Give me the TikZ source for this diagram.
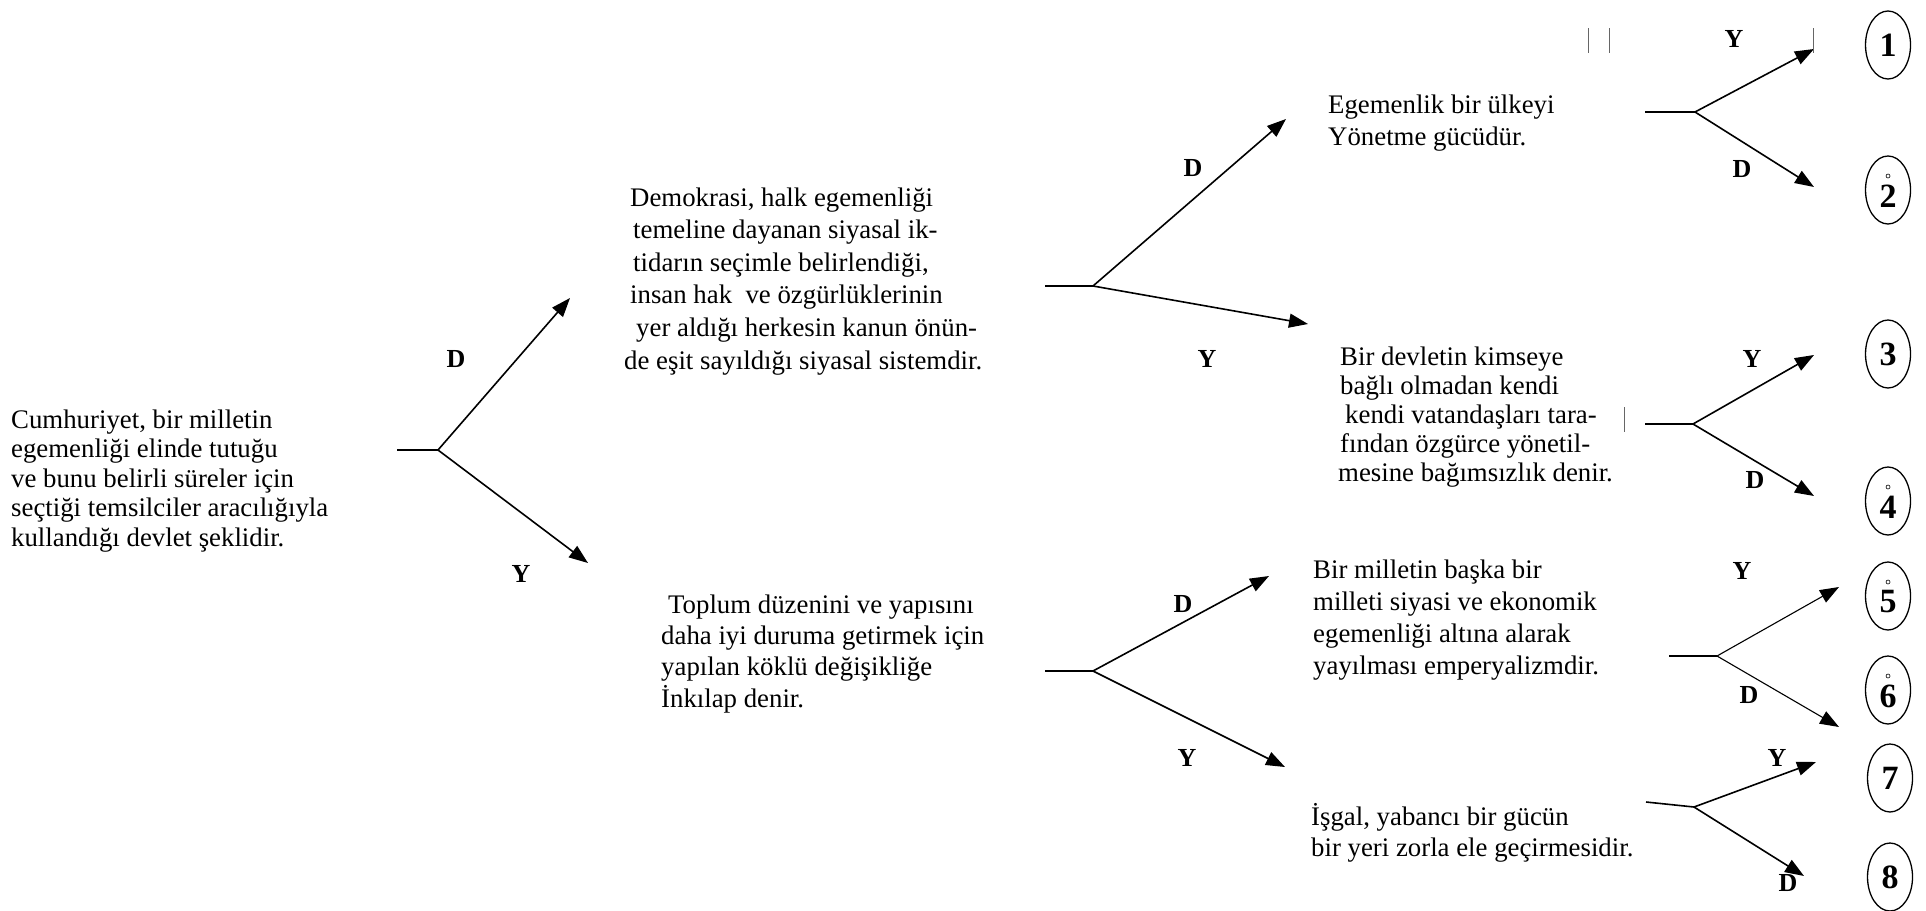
\documentclass[tikz,border=0pt]{standalone}
\usepackage{fontspec}
\setmainfont{Liberation Serif}
\usetikzlibrary{arrows.meta,shapes.geometric}
\begin{document}
\begin{tikzpicture}[x=1pt,y=-1pt,
  txt/.style={anchor=base west,inner sep=0pt,font=\fontsize{26.8}{#1}\selectfont},
  lbl/.style={inner sep=0pt,font=\fontsize{26}{30}\selectfont\bfseries},
  numc/.style={draw,line width=1.3pt,ellipse,minimum width=45pt,minimum height=68pt,inner sep=0pt},
  digit/.style={inner sep=0pt,font=\fontsize{34}{36}\selectfont\bfseries},
  dotmark/.style={draw,line width=0.6pt,circle,minimum size=4pt,inner sep=0pt},
  stem/.style={line width=1.6pt},
  arr/.style={line width=1.6pt,-{Triangle[length=19pt,width=14pt]}},
  thinarr/.style={line width=1.1pt,-{Triangle[length=19pt,width=14pt]}},
  bar/.style={line width=0.7pt,draw=black!60}]
\useasboundingbox (0,0) rectangle (1926,910);

% ---------- text blocks ----------
\node[txt=29.5] (cum) at (11,428) {\begin{tabular}[t]{@{}l@{}}
Cumhuriyet, bir milletin\\
egemenliği elinde tutuğu\\
ve bunu belirli süreler için\\
seçtiği temsilciler aracılığıyla\\
kullandığı devlet şeklidir.\end{tabular}};

\node[txt=32.6] (dem) at (624,206) {\begin{tabular}[t]{@{}l@{}}
\hspace{6pt}Demokrasi, halk egemenliği\\
\hspace{9pt}temeline dayanan siyasal ik-\\
\hspace{9pt}tidarın seçimle belirlendiği,\\
\hspace{6pt}insan hak\ \ ve özgürlüklerinin\\
\hspace{12pt}yer aldığı herkesin kanun önün-\\
de eşit sayıldığı siyasal sistemdir.\end{tabular}};

\node[txt=31.3] (top) at (661,613) {\begin{tabular}[t]{@{}l@{}}
\hspace{7pt}Toplum düzenini ve yapısını\\
daha iyi duruma getirmek için\\
yapılan köklü değişikliğe\\
İnkılap denir.\end{tabular}};

\node[txt=32] (ege) at (1328,113) {\begin{tabular}[t]{@{}l@{}}
Egemenlik bir ülkeyi\\
Yönetme gücüdür.\end{tabular}};

\node[txt=29] (bag) at (1338,365) {\begin{tabular}[t]{@{}l@{}}
\hspace{2pt}Bir devletin kimseye\\
\hspace{2pt}bağlı olmadan kendi\\
\hspace{7pt}kendi vatandaşları tara-\\
\hspace{2pt}fından özgürce yönetil-\\
mesine bağımsızlık denir.\end{tabular}};

\node[txt=32] (emp) at (1313,578) {\begin{tabular}[t]{@{}l@{}}
Bir milletin başka bir\\
milleti siyasi ve ekonomik\\
egemenliği altına alarak\\
yayılması emperyalizmdir.\end{tabular}};

\node[txt=31] (isg) at (1311,825) {\begin{tabular}[t]{@{}l@{}}
İşgal, yabancı bir gücün\\
bir yeri zorla ele geçirmesidir.\end{tabular}};

% ---------- answer ellipses ----------
\node[numc] (c1) at (1888,45) {};
\node[numc] (c2) at (1888,190) {};
\node[numc] (c3) at (1888,354) {};
\node[numc] (c4) at (1888,501) {};
\node[numc] (c5) at (1888,596) {};
\node[numc] (c6) at (1888,690) {};
\node[numc] (c7) at (1890,778) {};
\node[numc] (c8) at (1890,877) {};
\node[digit] (d1) at (c1) {1};
\node[digit] (d2) at ([yshift=-6pt]c2) {2};
\node[digit] (d3) at (c3) {3};
\node[digit] (d4) at ([yshift=-6pt]c4) {4};
\node[digit] (d5) at ([yshift=-6pt]c5) {5};
\node[digit] (d6) at ([yshift=-6pt]c6) {6};
\node[digit] (d7) at (c7) {7};
\node[digit] (d8) at (c8) {8};
\node[dotmark] (m2) at ([yshift=14pt]c2) {};
\node[dotmark] (m4) at ([yshift=14pt]c4) {};
\node[dotmark] (m5) at ([yshift=14pt]c5) {};
\node[dotmark] (m6) at ([yshift=14pt]c6) {};

% ---------- fork 1 ----------
\coordinate (s1) at (397,450);
\coordinate (f1) at (438,450);
\coordinate (t1a) at (570,298);
\coordinate (t1b) at (588,563);
\draw[stem] (s1) -- (f1);
\draw[arr] (f1) -- (t1a);
\draw[arr] (f1) -- (t1b);
\node[lbl] (l1a) at (456,359) {D};
\node[lbl] (l1b) at (521,574) {Y};

% ---------- fork 2 ----------
\coordinate (s2) at (1045,286);
\coordinate (f2) at (1093,286);
\coordinate (t2a) at (1286,119);
\coordinate (t2b) at (1308,324);
\draw[stem] (s2) -- (f2);
\draw[arr] (f2) -- (t2a);
\draw[arr] (f2) -- (t2b);
\node[lbl] (l2a) at (1193,168) {D};
\node[lbl] (l2b) at (1207,359) {Y};

% ---------- fork 3 ----------
\coordinate (s3) at (1045,671);
\coordinate (f3) at (1093,671);
\coordinate (t3a) at (1269,576);
\coordinate (t3b) at (1285,767);
\draw[stem] (s3) -- (f3);
\draw[arr] (f3) -- (t3a);
\draw[arr] (f3) -- (t3b);
\node[lbl] (l3a) at (1183,604) {D};
\node[lbl] (l3b) at (1187,758) {Y};

% ---------- fork 4 (1/2) ----------
\coordinate (s4) at (1645,112);
\coordinate (f4) at (1695,112);
\coordinate (t4a) at (1814,49);
\coordinate (t4b) at (1814,187);
\draw[stem] (s4) -- (f4);
\draw[arr] (f4) -- (t4a);
\draw[arr] (f4) -- (t4b);
\node[lbl] (l4a) at (1734,39) {Y};
\node[lbl] (l4b) at (1742,169) {D};
\draw[bar] (1588,28) -- (1588,53);
\draw[bar] (1609,28) -- (1609,53);
\draw[bar] (1813,28) -- (1813,53);

% ---------- fork 5 (3/4) ----------
\coordinate (s5) at (1645,424);
\coordinate (f5) at (1693,424);
\coordinate (t5a) at (1814,355);
\coordinate (t5b) at (1814,496);
\draw[stem] (s5) -- (f5);
\draw[arr] (f5) -- (t5a);
\draw[arr] (f5) -- (t5b);
\node[lbl] (l5a) at (1752,359) {Y};
\node[lbl] (l5b) at (1755,480) {D};
\draw[bar] (1624,407) -- (1624,432);

% ---------- fork 6 (5/6) ----------
\coordinate (s6) at (1669,656);
\coordinate (f6) at (1717,656);
\coordinate (t6a) at (1839,587);
\coordinate (t6b) at (1839,727);
\draw[stem] (s6) -- (f6);
\draw[thinarr] (f6) -- (t6a);
\draw[thinarr] (f6) -- (t6b);
\node[lbl] (l6a) at (1742,571) {Y};
\node[lbl] (l6b) at (1749,695) {D};

% ---------- fork 7 (7/8) ----------
\coordinate (s7) at (1646,802);
\coordinate (f7) at (1694,807);
\coordinate (t7a) at (1816,762);
\coordinate (t7b) at (1804,876);
\draw[stem] (s7) -- (f7);
\draw[arr] (f7) -- (t7a);
\draw[arr] (f7) -- (t7b);
\node[lbl] (l7a) at (1777,758) {Y};
\node[lbl] (l7b) at (1788,883) {D};
\end{tikzpicture}
\end{document}
